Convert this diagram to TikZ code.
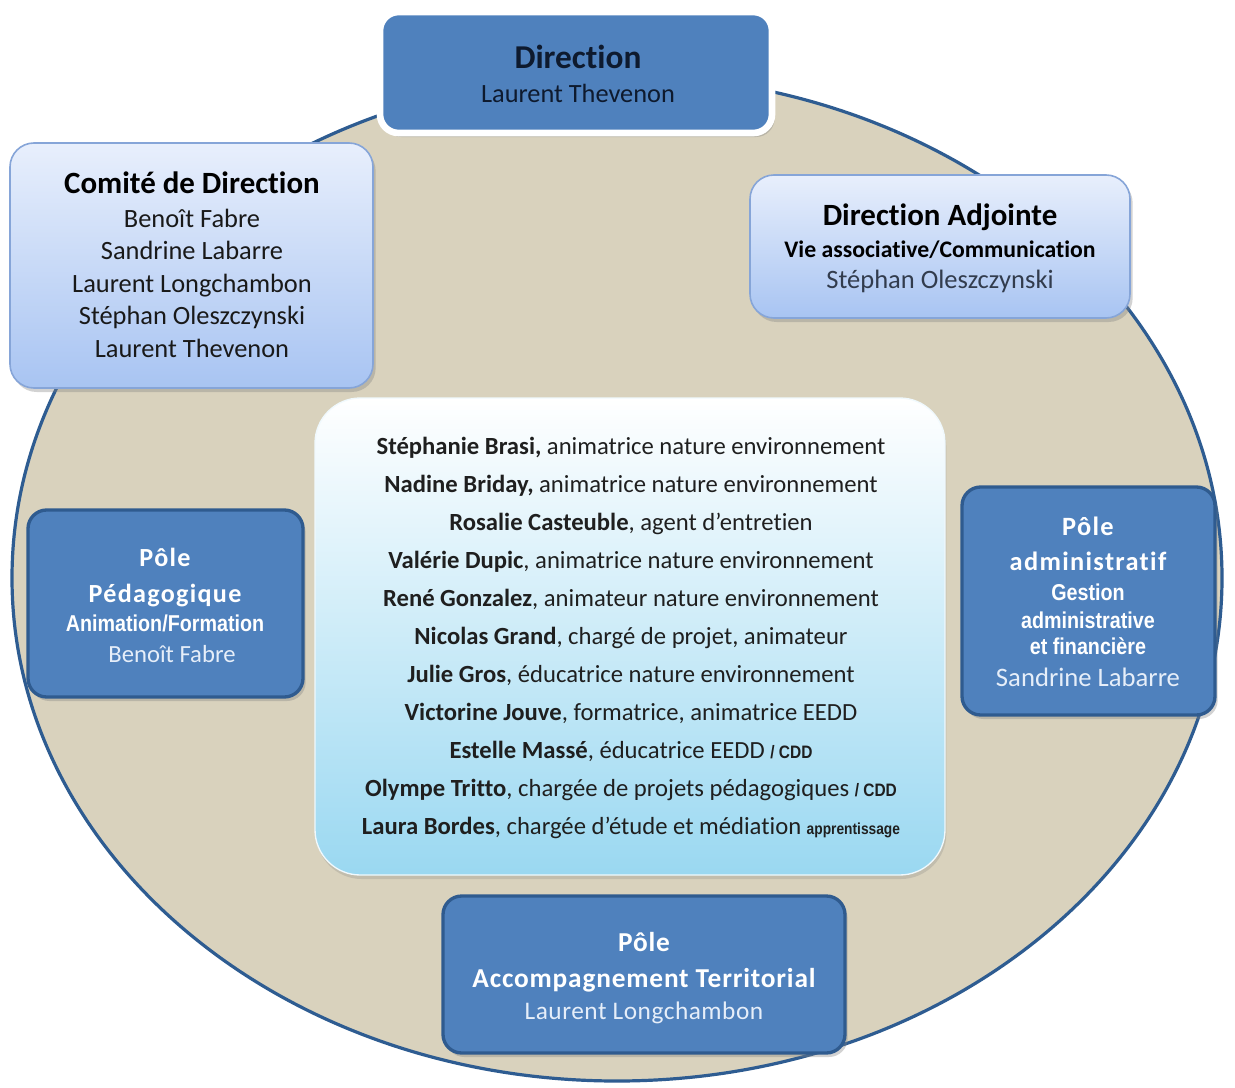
\documentclass[tikz,border=0pt]{standalone}
\usepackage{fontspec}
\setmainfont{Carlito}[Ligatures={NoCommon}]
\newfontfamily\narrowf[FakeStretch=0.86]{Liberation Sans}
\usetikzlibrary{shadows,shapes.geometric}
\definecolor{ellfill}{HTML}{D9D2BD}
\definecolor{elldraw}{HTML}{2E5C91}
\definecolor{boxblue}{HTML}{4F81BD}
\definecolor{boxedge}{HTML}{2F5B8F}
\definecolor{lighttop}{HTML}{E8EFFC}
\definecolor{lightbot}{HTML}{A8C4F2}
\definecolor{lightedge}{HTML}{86A5D8}
\definecolor{cyanbot}{HTML}{9AD8F1}
\definecolor{navy}{HTML}{0E1A2E}
\definecolor{paletxt}{HTML}{E6EEF9}
\tikzset{
  ln/.style={inner sep=0pt, anchor=base},
  softshadow/.style={drop shadow={opacity=0.35, shadow xshift=2pt, shadow yshift=-3pt}},
  darkbox/.style={rectangle, rounded corners=14pt, fill=boxblue, draw=boxedge, line width=2.5pt, softshadow},
  topbox/.style={rectangle, rounded corners=14pt, fill=boxblue, draw=white, line width=5pt, softshadow},
  lightbox/.style={rectangle, rounded corners=18pt, top color=lighttop, bottom color=lightbot, draw=lightedge, line width=1.2pt, softshadow},
  centerbox/.style={rectangle, rounded corners=34pt, top color=white, bottom color=cyanbot, draw=white!85!cyanbot, line width=1pt, drop shadow={opacity=0.25, shadow xshift=1pt, shadow yshift=-3pt}},
}
\newcommand{\nb}[1]{{\narrowf\bfseries #1}}
\begin{document}
\begin{tikzpicture}[x=0.75pt,y=-0.75pt]
\useasboundingbox (0,0) rectangle (1235,1088);
\fill[white] (0,0) rectangle (1235,1088);
% big ellipse
\node[ellipse, fill=ellfill, draw=elldraw, line width=2.4pt, minimum width=907.5pt, minimum height=754.5pt, inner sep=0pt] (ring) at (617,578) {};

% Direction
\node[topbox, minimum width=294pt, minimum height=90.75pt] (dir) at (576,72.5) {};
\node[ln, font=\bfseries\fontsize{25}{29}\selectfont, text=navy] (dirT) at (578,69) {Direction};
\node[ln, font=\fontsize{19.75}{23}\selectfont, text=navy] (dirN) at (578,103) {Laurent Thevenon};

% Comite de Direction
\node[lightbox, minimum width=272.25pt, minimum height=183.75pt] (cdd) at (191.5,265.5) {};
\node[ln, font=\bfseries\fontsize{23.2}{27}\selectfont] (cddT) at (192,193) {Comité de Direction};
\begin{scope}[every node/.style={ln, font=\fontsize{19.8}{23}\selectfont, text=black!90}]
\node (cdd1) at (192,227) {Benoît Fabre};
\node (cdd2) at (192,259.5) {Sandrine Labarre};
\node (cdd3) at (192,292) {Laurent Longchambon};
\node (cdd4) at (192,324.5) {Stéphan Oleszczynski};
\node (cdd5) at (192,357) {Laurent Thevenon};
\end{scope}

% Direction Adjointe
\node[lightbox, minimum width=285pt, minimum height=107.25pt] (adj) at (940,246.5) {};
\node[ln, font=\bfseries\fontsize{23.2}{27}\selectfont] (adjT) at (940,225) {Direction Adjointe};
\node[ln, font=\bfseries\fontsize{17.8}{21}\selectfont] (adjS) at (940,257) {Vie associative/Communication};
\node[ln, font=\fontsize{19.9}{23}\selectfont, text=navy!85] (adjN) at (940,288) {Stéphan Oleszczynski};

% Pole pedagogique
\node[darkbox, minimum width=206.25pt, minimum height=140.25pt] (ped) at (165.5,603.5) {};
\begin{scope}[every node/.style={ln, text=white}]
\node[font=\bfseries\addfontfeature{LetterSpace=5}\fontsize{19.6}{23}\selectfont] (pedT1) at (165,566) {Pôle};
\node[font=\bfseries\addfontfeature{LetterSpace=5}\fontsize{19.6}{23}\selectfont] (pedT2) at (165,602) {Pédagogique};
\node[font=\fontsize{17.2}{20}\selectfont] (pedS) at (165,631) {\nb{Animation/Formation}};
\node[font=\fontsize{18.5}{21}\selectfont, text=paletxt] (pedN) at (172,662) {Benoît Fabre};
\end{scope}

% Pole administratif
\node[darkbox, minimum width=189.75pt, minimum height=171pt] (adm) at (1088.5,601) {};
\begin{scope}[every node/.style={ln, text=white}]
\node[font=\bfseries\addfontfeature{LetterSpace=5}\fontsize{19.8}{23}\selectfont] (admT1) at (1088,535) {Pôle};
\node[font=\bfseries\addfontfeature{LetterSpace=5}\fontsize{19.8}{23}\selectfont] (admT2) at (1088,570) {administratif};
\node[font=\fontsize{17.2}{20}\selectfont] (admS1) at (1088,600) {\nb{Gestion}};
\node[font=\fontsize{17.2}{20}\selectfont] (admS2) at (1088,628) {\nb{administrative}};
\node[font=\fontsize{17.2}{20}\selectfont] (admS3) at (1088,654) {\nb{et financière}};
\node[font=\fontsize{20}{23}\selectfont, text=paletxt] (admN) at (1088,686) {Sandrine Labarre};
\end{scope}

% Pole accompagnement
\node[darkbox, minimum width=301.5pt, minimum height=117.75pt] (acc) at (644,974.5) {};
\begin{scope}[every node/.style={ln, text=white}]
\node[font=\bfseries\addfontfeature{LetterSpace=3}\fontsize{20.5}{24}\selectfont] (accT1) at (644,951) {Pôle};
\node[font=\bfseries\addfontfeature{LetterSpace=3}\fontsize{20.5}{24}\selectfont] (accT2) at (644,987) {Accompagnement Territorial};
\node[font=\addfontfeature{LetterSpace=2}\fontsize{19}{22}\selectfont, text=paletxt] (accN) at (644,1019) {Laurent Longchambon};
\end{scope}

% Center staff list
\node[centerbox, minimum width=472.5pt, minimum height=357.75pt] (staff) at (630,636.5) {};
\begin{scope}[every node/.style={ln, font=\fontsize{18.5}{22}\selectfont, text=black!88}]
\node (s1) at (631,454) {\textbf{Stéphanie Brasi,} animatrice nature environnement};
\node (s2) at (631,492) {\textbf{Nadine Briday,} animatrice nature environnement};
\node (s3) at (631,530) {\textbf{Rosalie Casteuble}, agent d’entretien};
\node (s4) at (631,568) {\textbf{Valérie Dupic}, animatrice nature environnement};
\node (s5) at (631,606) {\textbf{René Gonzalez}, animateur nature environnement};
\node (s6) at (631,644) {\textbf{Nicolas Grand}, chargé de projet, animateur};
\node (s7) at (631,682) {\textbf{Julie Gros}, éducatrice nature environnement};
\node (s8) at (631,720) {\textbf{Victorine Jouve}, formatrice, animatrice EEDD};
\node (s9) at (631,758) {\textbf{Estelle Massé}, éducatrice EEDD {\narrowf\bfseries\fontsize{13.5}{16}\selectfont / CDD}};
\node (s10) at (631,796) {\textbf{Olympe Tritto}, chargée de projets pédagogiques {\narrowf\bfseries\fontsize{13.5}{16}\selectfont / CDD}};
\node (s11) at (631,834) {\textbf{Laura Bordes}, chargée d’étude et médiation {\narrowf\bfseries\fontsize{12}{14}\selectfont apprentissage}};
\end{scope}
\end{tikzpicture}
\end{document}
